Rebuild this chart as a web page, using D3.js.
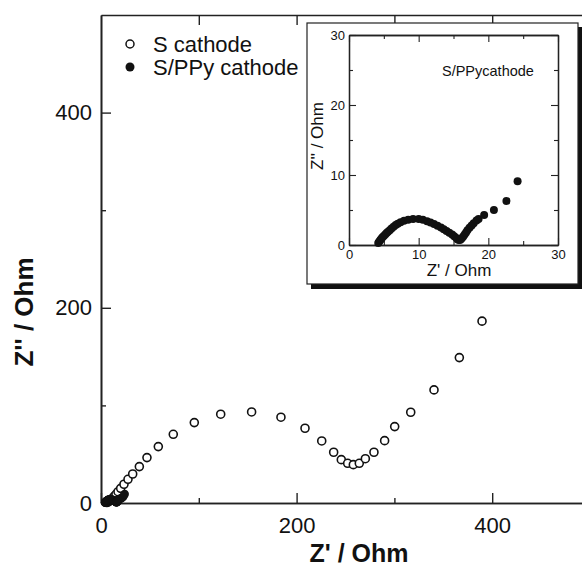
<!DOCTYPE html>
<html>
<head>
<meta charset="utf-8">
<script src="https://cdn.jsdelivr.net/npm/d3@7"></script>
<style>
  html, body { margin: 0; padding: 0; background: #fff; }
  svg { display: block; }
  text { font-family: "Liberation Sans", Arial, sans-serif; fill: #111; }
</style>
</head>
<body>
<svg id="chart" width="582" height="568"></svg>
<script>
// Nyquist data: Z' (real) and Z'' (imaginary), in Ohm
const sCathodeRe = [6, 7.5, 9, 10.5, 12, 13.5, 15.3, 17.4, 20.1, 23.5, 27.6, 32.4, 39.2, 47, 58.6, 73.9, 95.4, 122.4, 154, 184, 208.6, 225.7, 237.9, 245.7, 252.2, 258, 264.1, 270.3, 279.1, 290, 300.3, 316.7, 340.5, 366.4, 389.6];
const sCathodeIm = [0.5, 1.2, 2.2, 3.5, 5, 6.8, 8.9, 11.6, 15, 19.2, 24.3, 29.7, 37.3, 46.5, 57.8, 70.4, 82.4, 91, 93.3, 87.9, 76.6, 63.6, 52, 44.4, 40.7, 39.3, 40.7, 45.4, 52, 63.9, 78.3, 93, 115.9, 149, 186.3];

const sppyRe = [4.2, 4.35, 4.5, 4.65, 4.8, 5.0, 5.2, 5.4, 5.6, 5.85, 6.1, 6.4, 6.7, 7.0, 7.4, 7.9, 8.5, 9.2, 10.0, 10.6, 11.2, 11.7, 12.2, 12.7, 13.2, 13.6, 14.0, 14.4, 14.8, 15.1, 15.4, 15.6, 15.8, 16.0, 16.2, 16.4, 16.6, 16.8, 17.0, 17.3, 17.6, 17.9, 18.3, 18.6, 19.4, 20.8, 22.6, 24.2];
const sppyIm = [0.3, 0.5, 0.7, 0.9, 1.1, 1.3, 1.5, 1.7, 1.9, 2.1, 2.35, 2.6, 2.85, 3.05, 3.25, 3.45, 3.6, 3.7, 3.7, 3.6, 3.4, 3.2, 3.0, 2.75, 2.5, 2.25, 2.0, 1.75, 1.5, 1.25, 1.0, 0.8, 0.7, 0.75, 0.95, 1.2, 1.5, 1.8, 2.1, 2.45, 2.8, 3.1, 3.5, 3.7, 4.3, 5.0, 6.3, 9.1];

const mainMajorTicks = [0, 200, 400];
const mainMinorTicks = [100, 300, 500];
const insetMajorTicks = [0, 10, 20, 30];
const insetMinorTicks = [5, 15, 25];
const legendLabels = ["S cathode", "S/PPy cathode"];

const sData = sCathodeRe.map((v, i) => ({ re: v, im: sCathodeIm[i] }));
const pData = sppyRe.map((v, i) => ({ re: v, im: sppyIm[i] }));

const svg = d3.select("#chart");
const ink = "#222";

// ---------- main plot ----------
const x = d3.scaleLinear().domain([0, 500]).range([101, 590]);
const y = d3.scaleLinear().domain([0, 500]).range([503, 15]);

function styleAxis(g, size) {
  g.selectAll("path.domain").attr("stroke", ink).attr("stroke-width", 1.6);
  g.selectAll(".tick line").attr("stroke", ink).attr("stroke-width", 1.4);
  g.selectAll("text").attr("font-family", "'Liberation Sans', Arial, sans-serif")
    .attr("font-size", size).attr("fill", "#111");
}

const gMain = svg.append("g");

gMain.append("g").attr("transform", `translate(0,${y(0)})`)
  .call(d3.axisBottom(x).tickValues(mainMinorTicks).tickSize(-5).tickSizeOuter(0).tickFormat(""))
  .call(g => styleAxis(g, 22));
gMain.append("g").attr("transform", `translate(0,${y(0)})`)
  .call(d3.axisBottom(x).tickValues(mainMajorTicks).tickSize(-10).tickSizeOuter(0).tickPadding(14))
  .call(g => styleAxis(g, 22));

gMain.append("g").attr("transform", `translate(0,${y(500)})`)
  .call(d3.axisTop(x).tickValues([100, 200, 300, 400]).tickSize(-10).tickSizeOuter(0).tickFormat(""))
  .call(g => styleAxis(g, 22));

gMain.append("g").attr("transform", `translate(${x(0)},0)`)
  .call(d3.axisLeft(y).tickValues([100, 300]).tickSize(-5).tickSizeOuter(0).tickFormat(""))
  .call(g => styleAxis(g, 22));
gMain.append("g").attr("transform", `translate(${x(0)},0)`)
  .call(d3.axisLeft(y).tickValues(mainMajorTicks).tickSize(-10).tickSizeOuter(0).tickPadding(9))
  .call(g => styleAxis(g, 22));

gMain.append("g").attr("transform", `translate(${x(500)},0)`)
  .call(d3.axisRight(y).tickValues([100, 200, 300, 400]).tickSize(-8).tickSizeOuter(0).tickFormat(""))
  .call(g => styleAxis(g, 22));

// axis titles
svg.append("text").attr("x", 359).attr("y", 562)
  .attr("text-anchor", "middle").attr("font-size", 25).attr("font-weight", "bold")
  .text("Z' / Ohm");
svg.append("text").attr("transform", "translate(33,312) rotate(-90)")
  .attr("text-anchor", "middle").attr("font-size", 26).attr("font-weight", "bold")
  .text("Z'' / Ohm");

// legend
const legend = svg.append("g");
legend.append("circle").attr("cx", 130).attr("cy", 44).attr("r", 4)
  .attr("fill", "#fff").attr("stroke", "#111").attr("stroke-width", 1.5);
legend.append("text").attr("x", 153).attr("y", 52).attr("font-size", 22).text(legendLabels[0]);
legend.append("circle").attr("cx", 130).attr("cy", 67).attr("r", 4.5).attr("fill", "#111");
legend.append("text").attr("x", 153).attr("y", 75).attr("font-size", 22).text(legendLabels[1]);

// markers
gMain.append("g").selectAll("circle").data(sData).join("circle")
  .attr("cx", d => x(d.re)).attr("cy", d => y(d.im)).attr("r", 4)
  .attr("fill", "#fff").attr("stroke", "#111").attr("stroke-width", 1.6);
gMain.append("g").selectAll("circle").data(pData).join("circle")
  .attr("cx", d => x(d.re)).attr("cy", d => y(d.im)).attr("r", 4.3)
  .attr("fill", "#111");

// ---------- inset ----------
const box = { x0: 307, y0: 23, x1: 578, y1: 284 };
const inset = svg.append("g");
inset.append("rect").attr("x", box.x0 + 4).attr("y", box.y0 + 4)
  .attr("width", box.x1 - box.x0 + 1).attr("height", box.y1 - box.y0 + 1)
  .attr("fill", "#111");
inset.append("rect").attr("x", box.x0).attr("y", box.y0)
  .attr("width", box.x1 - box.x0).attr("height", box.y1 - box.y0)
  .attr("fill", "#fff").attr("stroke", ink).attr("stroke-width", 1.2);

const xi = d3.scaleLinear().domain([0, 30]).range([349, 558]);
const yi = d3.scaleLinear().domain([0, 30]).range([245, 35]);

function insetAxis(axisFn, scale, transform, ticks, size, labels, pad) {
  const a = axisFn(scale).tickValues(ticks).tickSize(-size).tickSizeOuter(0);
  if (!labels) a.tickFormat(""); else a.tickPadding(pad);
  inset.append("g").attr("transform", transform).call(a)
    .call(g => {
      g.selectAll("path.domain").attr("stroke", ink).attr("stroke-width", 1.3);
      g.selectAll(".tick line").attr("stroke", ink).attr("stroke-width", 1.1);
      g.selectAll("text").attr("font-family", "'Liberation Sans', Arial, sans-serif")
        .attr("font-size", 13).attr("fill", "#111");
    });
}

insetAxis(d3.axisBottom, xi, `translate(0,${yi(0)})`, insetMinorTicks, 4, false);
insetAxis(d3.axisBottom, xi, `translate(0,${yi(0)})`, insetMajorTicks, 7, true, 5);
insetAxis(d3.axisTop, xi, `translate(0,${yi(30)})`, insetMinorTicks, 4, false);
insetAxis(d3.axisTop, xi, `translate(0,${yi(30)})`, insetMajorTicks, 7, false);
insetAxis(d3.axisLeft, yi, `translate(${xi(0)},0)`, insetMinorTicks, 4, false);
insetAxis(d3.axisLeft, yi, `translate(${xi(0)},0)`, insetMajorTicks, 7, true, 4);
insetAxis(d3.axisRight, yi, `translate(${xi(30)},0)`, insetMinorTicks, 4, false);
insetAxis(d3.axisRight, yi, `translate(${xi(30)},0)`, insetMajorTicks, 7, false);

inset.append("text").attr("x", 459).attr("y", 276)
  .attr("text-anchor", "middle").attr("font-size", 17).text("Z' / Ohm");
inset.append("text").attr("transform", "translate(323,136) rotate(-90)")
  .attr("text-anchor", "middle").attr("font-size", 17).text("Z'' / Ohm");
inset.append("text").attr("x", 442).attr("y", 76).attr("font-size", 14.5).text("S/PPycathode");

inset.append("g").selectAll("circle").data(pData).join("circle")
  .attr("cx", d => xi(d.re)).attr("cy", d => yi(d.im)).attr("r", 4)
  .attr("fill", "#111");
</script>
</body>
</html>
